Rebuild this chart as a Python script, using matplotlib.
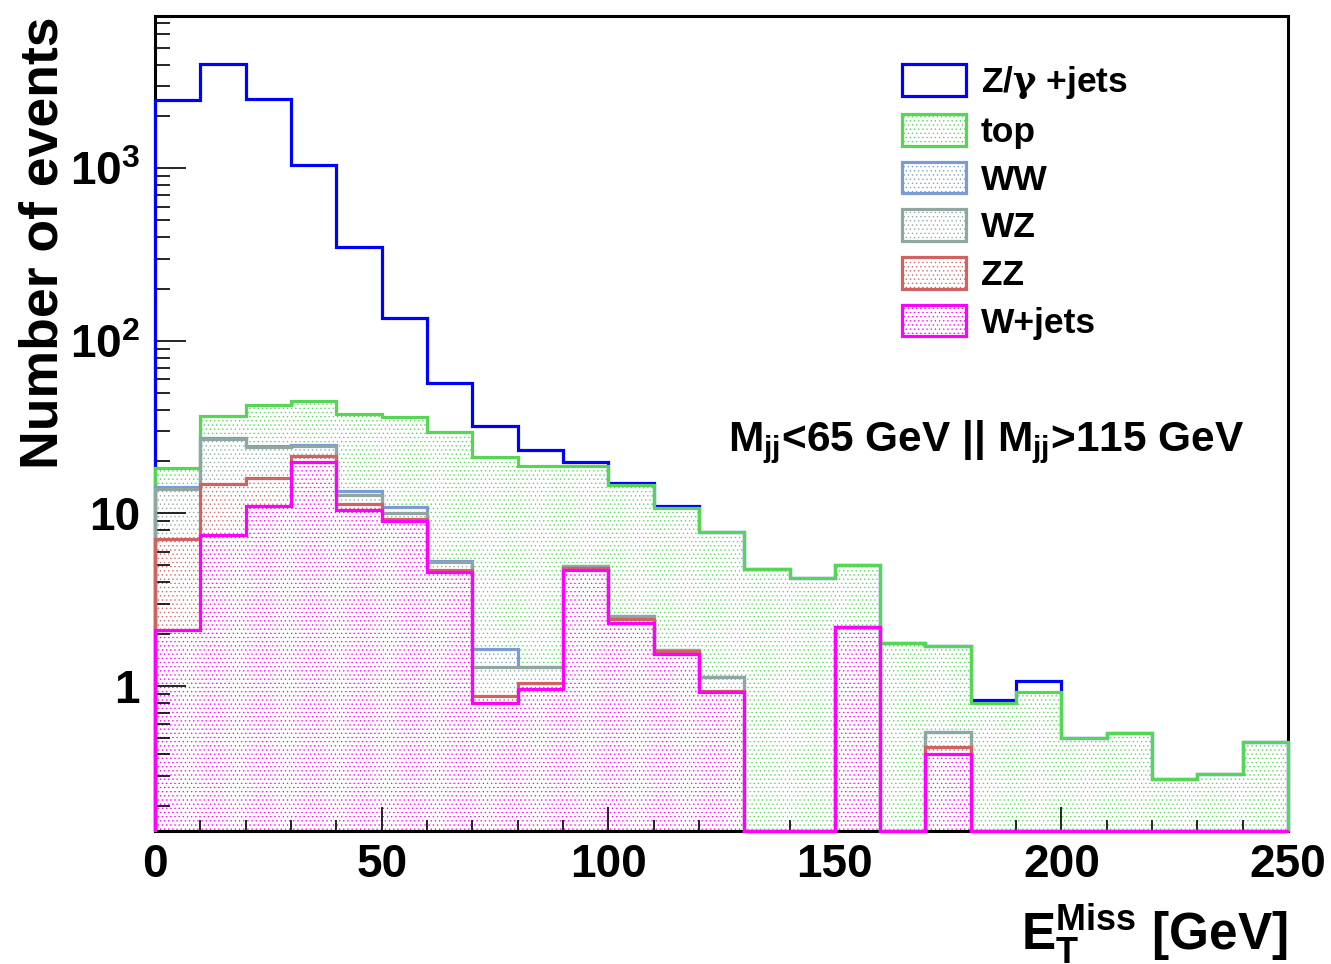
import matplotlib
matplotlib.use('Agg')
import matplotlib.pyplot as plt
import numpy as np
from matplotlib.patches import Patch
from matplotlib.ticker import LogLocator, NullFormatter

plt.rcParams['font.family'] = ['Liberation Sans', 'DejaVu Sans']
plt.rcParams['font.weight'] = 'bold'
plt.rcParams['mathtext.fontset'] = 'custom'
plt.rcParams['mathtext.rm'] = 'DejaVu Serif'
plt.rcParams['mathtext.it'] = 'Liberation Sans:bold'
plt.rcParams['mathtext.bf'] = 'Liberation Sans:bold'
plt.rcParams['hatch.linewidth'] = 0.45

################################################################################
# MET bins, 10 GeV wide
bin_edges = np.arange(0, 251, 10)

# per-process events (stack order: bottom first)
wjets = [2.1, 7.5, 11.1, 19.8, 10.5, 9.0, 4.55, 0.80, 0.96, 4.7, 2.3, 1.53, 0.92,
         0, 0, 2.2, 0, 0.40, 0, 0, 0, 0, 0, 0, 0]
zz = [5.0, 7.3, 5.0, 1.7, 0.9, 0.3, 0.15, 0.07, 0.08, 0.1, 0.14, 0.07, 0.01,
      0, 0, 0, 0, 0.04, 0, 0, 0, 0, 0, 0, 0]
wz = [6.8, 12.1, 8.1, 3.1, 1.4, 0.7, 0.55, 0.42, 0.25, 0.12, 0.11, 0.02, 0.19,
      0, 0, 0, 0, 0.10, 0, 0, 0, 0, 0, 0, 0]
ww = [0.3, 0.4, 0.4, 0.3, 0.6, 0.9, 0.05, 0.34, 0, 0, 0, 0, 0,
      0, 0, 0, 0, 0, 0, 0, 0, 0, 0, 0, 0]
top = [4.2, 9.4, 17.6, 20.0, 24.3, 25.5, 24.5, 19.7, 17.6, 13.8, 12.0, 9.1, 6.7,
       4.75, 4.2, 2.8, 1.78, 1.17, 0.80, 0.92, 0.50, 0.53, 0.29, 0.31, 0.47]
zjets = [2478, 3997, 2488, 1002, 313, 100, 27, 10.7, 4.5, 1.1, 0.4, 0.25, 0,
         0, 0, 0, 0, 0, 0.03, 0.15, 0, 0, 0, 0, 0]

processes = ['W+jets', 'ZZ', 'WZ', 'WW', 'top', r'Z/$\mathrm{\gamma}$ +jets']
colors = ['#ff00ff', '#d06262', '#8fa6a2', '#7b9bd4', '#55d655', '#0000ff']
hatches = ['....', '....', '....', '....', '....', None]

ymin, ymax = 0.144, 7650
################################################################################
fig = plt.figure(figsize=(13.31, 9.64), dpi=100)
ax = fig.add_axes([0.1165, 0.138, 0.8512, 0.8454])

stack = np.cumsum(np.array([wjets, zz, wz, ww, top, zjets]), axis=0)

# draw from the top of the stack down, like THStack
for i in range(len(processes) - 1, -1, -1):
    vals = np.maximum(stack[i], ymin)
    ax.stairs(vals, bin_edges, baseline=ymin, fill=True, facecolor='white',
              edgecolor=colors[i], hatch=hatches[i], linewidth=0, zorder=1)
    ax.stairs(vals, bin_edges, baseline=ymin, fill=False, color=colors[i],
              linewidth=2.3, zorder=3, clip_on=False)

ax.set_yscale('log')
ax.set_xlim(0, 250)
ax.set_ylim(ymin, ymax)

ax.set_yticks([1, 10, 100, 1000])
ax.set_yticklabels(['1', '10', r'$\mathbf{10^{2}}$', r'$\mathbf{10^{3}}$'])
ax.yaxis.set_minor_locator(LogLocator(base=10, subs=np.arange(2, 10)))
ax.yaxis.set_minor_formatter(NullFormatter())
ax.set_xticks([0, 50, 100, 150, 200, 250])
ax.set_xticks(np.arange(0, 251, 10), minor=True)

ax.tick_params(axis='both', which='both', direction='in', width=1.2, colors='black',
               top=False, right=False, labelsize=33)
ax.tick_params(axis='y', which='major', length=22, pad=11)
ax.tick_params(axis='y', which='minor', length=11)
ax.tick_params(axis='x', which='major', length=17, pad=9)
ax.tick_params(axis='x', which='minor', length=8)
for s in ax.spines.values():
    s.set_linewidth(2.2)

ax.set_ylabel('Number of events', fontsize=38.5, fontweight='bold', loc='top', labelpad=1)
ax.set_xlabel(r'$\mathbf{E_{T}^{Miss}}$ [GeV]', fontsize=37, fontweight='bold',
              loc='right', labelpad=10)

ax.text(0.506, 0.466, r'$\mathbf{M_{jj}}$<65 GeV || $\mathbf{M_{jj}}$>115 GeV',
        transform=ax.transAxes, fontsize=30.5, fontweight='bold', va='baseline', ha='left')

handles = [Patch(facecolor='white', edgecolor=colors[i], hatch=hatches[i],
                 linewidth=2.3, label=processes[i])
           for i in range(len(processes) - 1, -1, -1)]
ax.legend(handles=handles, loc='upper left', bbox_to_anchor=(0.659, 0.941),
          frameon=False, fontsize=25.5, handlelength=1.83, handleheight=1.0,
          handletextpad=0.4, labelspacing=0.36, borderpad=0, borderaxespad=0)

plt.savefig('out.png', dpi=100)
